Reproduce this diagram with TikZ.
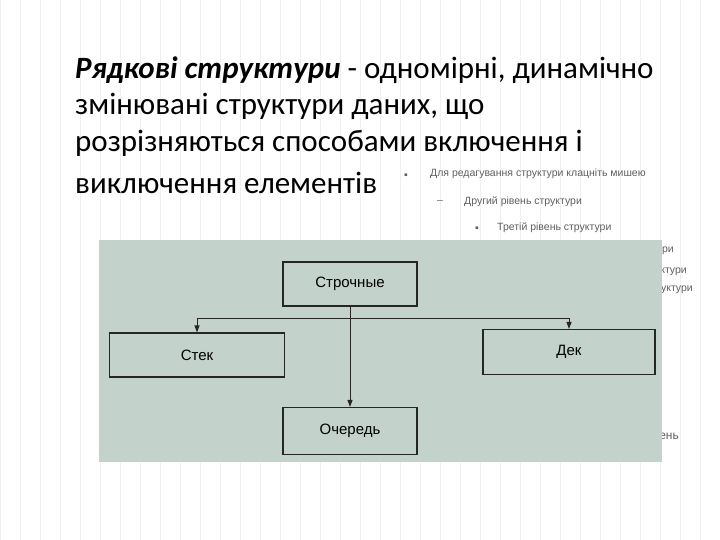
\documentclass[tikz,border=0pt]{standalone}
\usepackage{fontspec}
\setmainfont{Carlito}
\newfontfamily\sansf{Liberation Sans}
\usetikzlibrary{arrows.meta}
\definecolor{photo}{RGB}{196,210,204}
\definecolor{small}{RGB}{95,95,95}
\tikzset{
  box/.style={draw=black!85, line width=1.1pt, fill=photo, inner sep=0pt, font=\sansf\fontsize{15}{17}\selectfont},
  conn/.style={draw=black!85, line width=1pt, -{Triangle[length=7pt,width=5pt]}},
  lvl/.style={anchor=west, text=small, font=\sansf\fontsize{10.5}{12}\selectfont, inner sep=0pt},
  lvlr/.style={anchor=east, text=small, font=\sansf\fontsize{10.5}{12}\selectfont, inner sep=0pt},
  title/.style={anchor=west, font=\fontsize{31}{34}\selectfont, inner sep=0pt}
}
\begin{document}
\begin{tikzpicture}[x=1pt,y=-1pt]
\useasboundingbox (0,0) rectangle (720,540);
\fill[white] (0,0) rectangle (720,540);
\draw[black!6, line width=0.4pt, step=20] (0,0) grid (720,540);
% title
\node[title] (t1) at (75,70) {\textbf{\textit{Рядкові структури}} - одномірні, динамічно};
\node[title] (t2) at (75,106) {змінювані структури даних, що};
\node[title] (t3) at (75,143) {розрізняються способами включення і};
\node[title] (t4) at (75,183) {виключення елементів};
% placeholder levels
\node[lvl] (b1) at (404,176) {▪};
\node[lvl] (l1) at (430,174) {Для редагування структури клацніть мишею};
\node[lvl] (b2) at (437,202) {–};
\node[lvl] (l2) at (464,202) {Другий рівень структури};
\node[lvl] (b3) at (475,229) {▪};
\node[lvl] (l3) at (497,228) {Третій рівень структури};
\node[lvlr] (l4) at (674,250) {Четвертий рівень структури};
\node[lvlr] (l5) at (687,271) {П’ятий рівень структури};
\node[lvlr] (l6) at (693,289) {Шостий рівень структури};
\node[lvlr, font=\sansf\fontsize{12}{14}\selectfont] (l7) at (679,436) {Дев’ятий рівень};
% photo
\fill[photo] (99,240) rectangle (662,462);
\node[box, minimum width=134pt, minimum height=44pt] (s) at (350,284) {Строчные};
\node[box, minimum width=175pt, minimum height=44pt] (st) at (197,355) {Стек};
\node[box, minimum width=172pt, minimum height=45pt] (d) at (569,352) {Дек};
\node[box, minimum width=134pt, minimum height=47pt] (o) at (350,431) {Очередь};
\coordinate (j) at (350,318);
\draw[conn] (s.south) -- (o.north);
\draw[conn] (j) -| (st.north);
\draw[conn] (j) -| (d.north);
\end{tikzpicture}
\end{document}
